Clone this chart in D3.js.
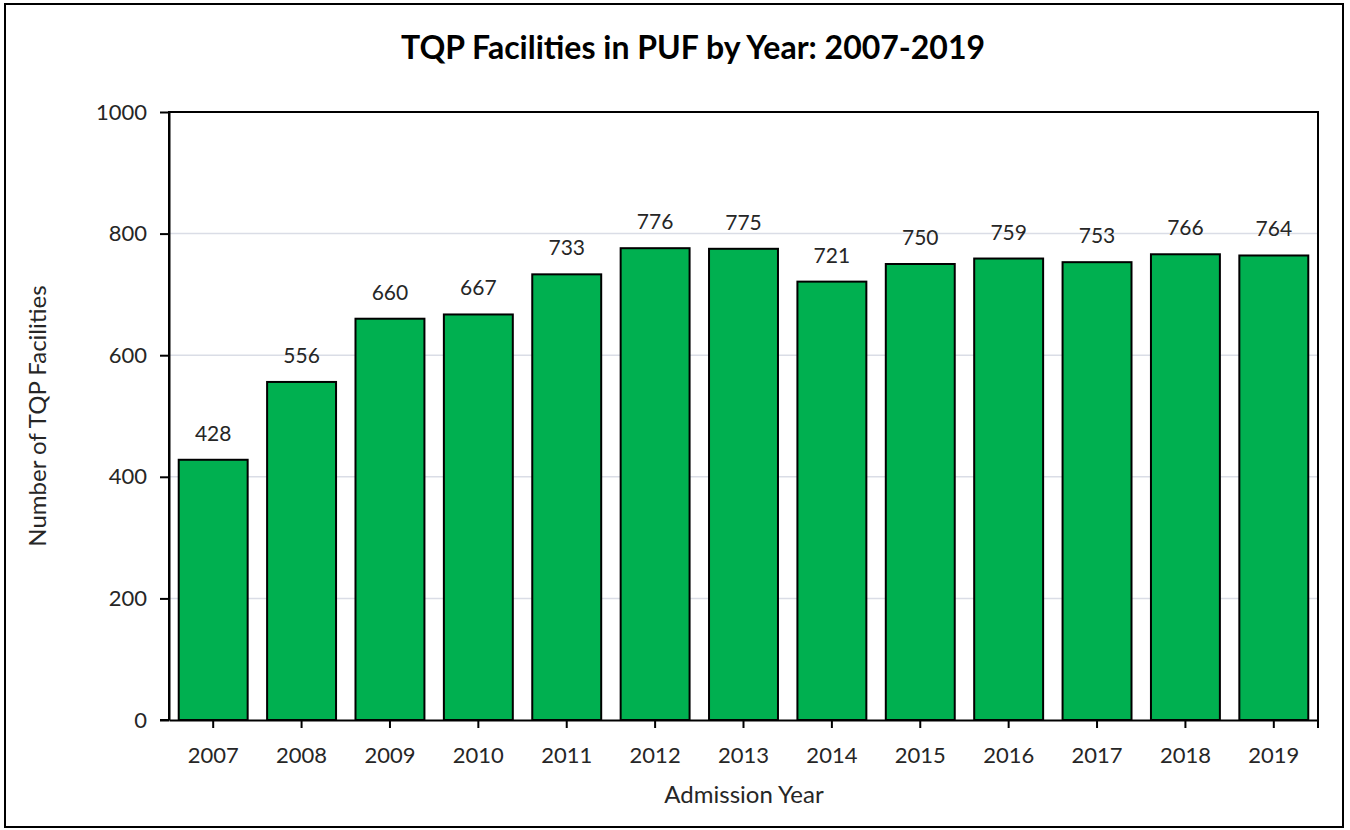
<!DOCTYPE html>
<html><head><meta charset="utf-8">
<script src="https://cdn.jsdelivr.net/npm/d3@7"></script>
<style>body{margin:0;background:#fff}svg{display:block}text{font-family:Lato,"Open Sans",sans-serif;fill:#262626}</style>
</head><body>
<script>
const years = ["2007","2008","2009","2010","2011","2012","2013","2014","2015","2016","2017","2018","2019"];
const facilities = [428,556,660,667,733,776,775,721,750,759,753,766,764];
const yTicks = [0,200,400,600,800,1000];
const title = "TQP Facilities in PUF by Year: 2007-2019";
const xTitle = "Admission Year";
const yTitle = "Number of TQP Facilities";

const W=1350,H=830;
const svg=d3.select("body").append("svg").attr("width",W).attr("height",H);
svg.append("rect").attr("x",5).attr("y",4).attr("width",1338).attr("height",823).attr("fill","#fff").attr("stroke","#000").attr("stroke-width",2);

const L=169,R=1318,T=112,B=720;
const x=d3.scaleBand().domain(years).range([L,R]).paddingInner(0.22).paddingOuter(0.11);
const y=d3.scaleLinear().domain([0,1000]).range([B,T]);

// gridlines
svg.append("g").selectAll("line").data(yTicks.filter(d=>d>0&&d<1000)).join("line")
 .attr("x1",L).attr("x2",R).attr("y1",d=>y(d)).attr("y2",d=>y(d)).attr("stroke","#dadde6").attr("stroke-width",1.5);

// bars
svg.append("g").selectAll("rect").data(years).join("rect")
 .attr("x",d=>x(d)).attr("width",x.bandwidth())
 .attr("y",(d,i)=>y(facilities[i])).attr("height",(d,i)=>B-y(facilities[i]))
 .attr("fill","#00B050").attr("stroke","#000").attr("stroke-width",2);

// data labels
svg.append("g").selectAll("text").data(years).join("text")
 .attr("x",d=>x(d)+x.bandwidth()/2).attr("y",(d,i)=>y(facilities[i])-19)
 .attr("text-anchor","middle").attr("font-size",21).text((d,i)=>facilities[i]);

// plot frame (left, top, right)
svg.append("path").attr("d",`M${L},${B}V${T}H${R}V${B}`).attr("fill","none").attr("stroke","#000").attr("stroke-width",2);

const font="Lato,'Open Sans',sans-serif";
// y axis
const ya=svg.append("g").attr("transform",`translate(${L},0)`)
 .call(d3.axisLeft(y).tickValues(yTicks).tickFormat(d3.format("d")).tickSize(9).tickSizeOuter(0).tickPadding(13));
ya.select(".domain").attr("stroke","#000").attr("stroke-width",2);
ya.selectAll(".tick line").attr("stroke","#000").attr("stroke-width",2);
ya.selectAll(".tick text").attr("font-size",22).attr("fill","#262626").style("font-family",font);

// x axis
const xa=svg.append("g").attr("transform",`translate(0,${B})`)
 .call(d3.axisBottom(x).tickSize(8).tickSizeOuter(0).tickPadding(19));
xa.select(".domain").attr("stroke","#000").attr("stroke-width",2);
xa.selectAll(".tick line").attr("stroke","#000").attr("stroke-width",2);
xa.selectAll(".tick text").attr("font-size",22).attr("fill","#262626").style("font-family",font);
svg.append("line").attr("x1",R).attr("x2",R).attr("y1",B).attr("y2",B+8).attr("stroke","#000").attr("stroke-width",2);
svg.append("line").attr("x1",L).attr("x2",L-9).attr("y1",B).attr("y2",B).attr("stroke","#000").attr("stroke-width",2);

// titles
svg.append("text").attr("x",693).attr("y",59).attr("text-anchor","middle").attr("font-size",32).attr("font-weight","bold").style("fill","#000").text(title);
svg.append("text").attr("x",744).attr("y",803).attr("text-anchor","middle").attr("font-size",24).text(xTitle);
svg.append("text").attr("transform","translate(46,416) rotate(-90)").attr("text-anchor","middle").attr("font-size",24).text(yTitle);
</script>
</body></html>
